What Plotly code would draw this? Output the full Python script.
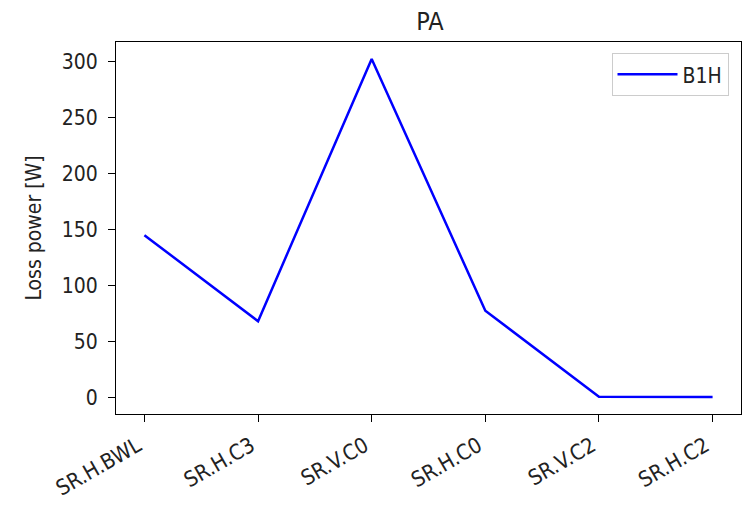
import plotly.graph_objects as go

categories = ["SR.H.BWL", "SR.H.C3", "SR.V.C0", "SR.H.C0", "SR.V.C2", "SR.H.C2"]
b1h_values = [145.2, 68.5, 302.4, 77.8, 1.2, 0.8]
y_ticks = [0, 50, 100, 150, 200, 250, 300]

ymin, ymax = min(b1h_values), max(b1h_values)
span = ymax - ymin
yrange = [ymin - 0.05 * span, ymax + 0.05 * span]
n = len(categories)
xrange = [-0.05 * (n - 1), (n - 1) * 1.05]

font = "Liberation Sans Narrow, DejaVu Sans Condensed, DejaVu Sans"

fig = go.Figure()
fig.add_trace(go.Scatter(
    x=list(range(n)), y=b1h_values, mode="lines", name="B1H",
    line=dict(color="#0000ff", width=2.5),
))

axis_common = dict(
    showline=True, linecolor="black", linewidth=1.2, mirror=True,
    ticks="outside", ticklen=7, tickwidth=1.2, tickcolor="black",
    showgrid=False, zeroline=False,
)

fig.update_layout(
    width=744, height=512,
    margin=dict(l=116, r=3, t=42, b=98),
    paper_bgcolor="white", plot_bgcolor="white",
    title=dict(text="PA", x=0.578, xanchor="center", y=0.958, yanchor="middle",
               font=dict(family=font, size=25, color="#222")),
    xaxis=dict(**axis_common, range=xrange, tickmode="array",
               tickvals=list(range(n)), ticktext=categories, tickangle=-30,
               ticklabelstandoff=3, ticklabelshift=-7,
               tickfont=dict(family=font, size=21.5, color="#222")),
    yaxis=dict(**axis_common, range=yrange, tickmode="array", tickvals=y_ticks,
               ticklabelstandoff=6,
               tickfont=dict(family=font, size=21, color="#222"),
               title=dict(text="Loss power [W]", standoff=14,
                          font=dict(family=font, size=21, color="#222"))),
    legend=dict(x=0.98, y=0.97, xanchor="right", yanchor="top",
                bordercolor="#cccccc", borderwidth=1, bgcolor="white",
                itemwidth=60,
                font=dict(family=font, size=21, color="#222")),
    showlegend=True,
)

fig.write_html("out.html")
